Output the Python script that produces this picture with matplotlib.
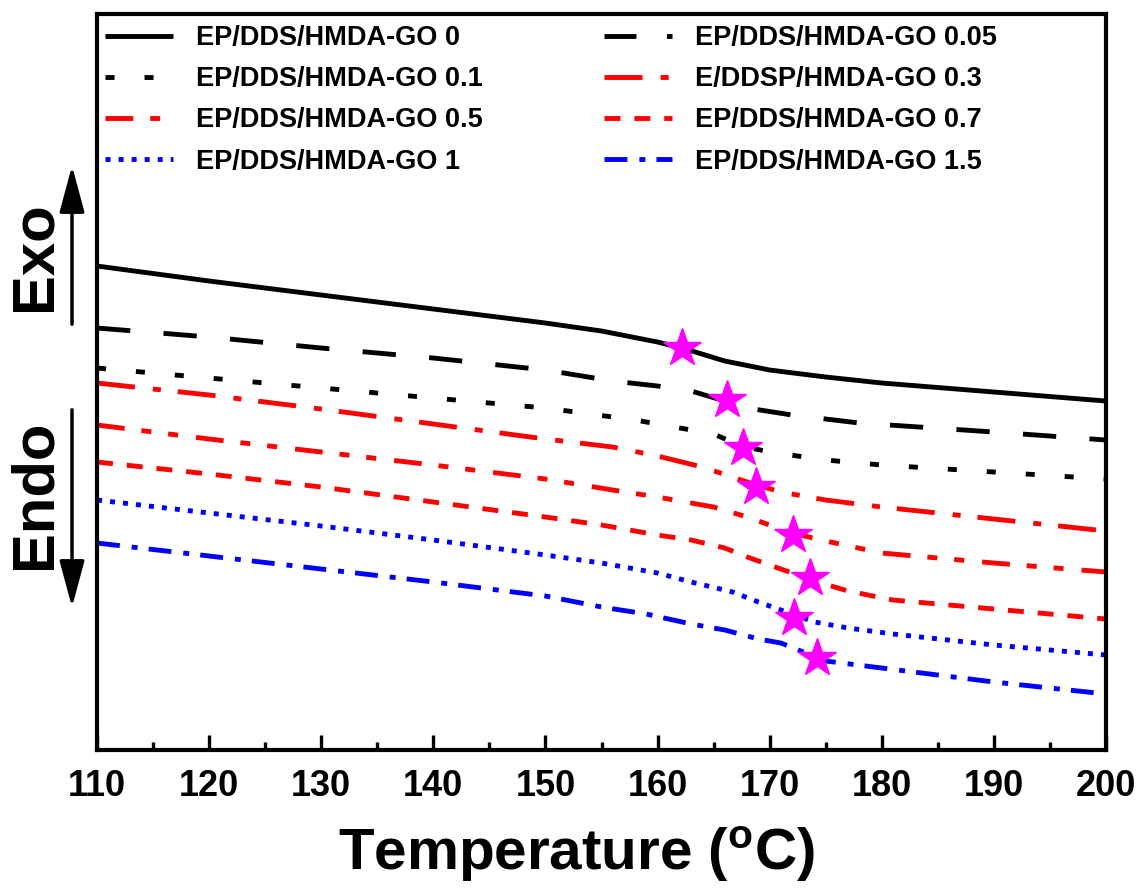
import matplotlib
matplotlib.use("Agg")
import matplotlib.pyplot as plt
from matplotlib.lines import Line2D

plt.rcParams['font.family'] = ['Liberation Sans', 'DejaVu Sans']
plt.rcParams['font.weight'] = 'bold'
plt.rcParams['mathtext.default'] = 'regular'
plt.rcParams['lines.scale_dashes'] = False

# DSC curves, heat flow in arbitrary units (offset stacked)
t_0 = [110, 120, 130, 140, 150, 155, 160, 162.5, 166, 170, 175, 180, 190, 200]
hf_0 = [4.84, 4.69, 4.55, 4.41, 4.27, 4.19, 4.08, 4.01, 3.89, 3.80, 3.73, 3.67, 3.58, 3.49]

t_005 = [110, 120, 130, 140, 150, 156, 160, 163, 166, 168, 172, 178, 190, 200]
hf_005 = [4.22, 4.13, 4.02, 3.92, 3.80, 3.69, 3.64, 3.59, 3.49, 3.42, 3.35, 3.27, 3.18, 3.10]

t_01 = [110, 120, 130, 140, 150, 158, 162, 165, 167.5, 170, 175, 180, 190, 200]
hf_01 = [3.82, 3.72, 3.62, 3.52, 3.42, 3.30, 3.22, 3.16, 3.04, 2.98, 2.90, 2.85, 2.78, 2.71]

t_03 = [110, 120, 130, 140, 150, 156, 160, 164, 168, 171, 175, 180, 190, 200]
hf_03 = [3.67, 3.55, 3.41, 3.26, 3.11, 3.03, 2.94, 2.83, 2.68, 2.58, 2.50, 2.43, 2.31, 2.19]

t_05 = [110, 120, 130, 140, 150, 156, 160, 165, 168, 172, 175, 180, 190, 200]
hf_05 = [3.25, 3.11, 2.98, 2.85, 2.71, 2.60, 2.53, 2.43, 2.33, 2.17, 2.09, 1.97, 1.87, 1.78]

t_07 = [110, 120, 130, 140, 150, 155, 160, 163, 166, 168, 170.5, 174, 177, 181, 190, 200]
hf_07 = [2.88, 2.76, 2.63, 2.48, 2.33, 2.25, 2.15, 2.10, 2.02, 1.93, 1.83, 1.69, 1.59, 1.50, 1.41, 1.31]

t_1 = [110, 120, 130, 140, 150, 155, 160, 163, 166.7, 169, 171, 174, 177, 181, 190, 200]
hf_1 = [2.50, 2.37, 2.24, 2.10, 1.95, 1.87, 1.77, 1.68, 1.58, 1.48, 1.40, 1.28, 1.22, 1.16, 1.05, 0.95]

t_15 = [110, 120, 130, 140, 150, 155, 159, 163, 166, 169, 171, 173, 175, 180, 190, 200]
hf_15 = [2.07, 1.94, 1.81, 1.68, 1.54, 1.43, 1.36, 1.26, 1.20, 1.11, 1.07, 0.98, 0.89, 0.82, 0.68, 0.56]

# Tg markers
tg_t = [162.2, 166.2, 167.6, 168.8, 172.1, 173.6, 172.2, 174.2]
tg_hf = [4.02, 3.50, 3.02, 2.63, 2.15, 1.72, 1.32, 0.92]

labels = ['EP/DDS/HMDA-GO 0', 'EP/DDS/HMDA-GO 0.05', 'EP/DDS/HMDA-GO 0.1',
          'E/DDSP/HMDA-GO 0.3', 'EP/DDS/HMDA-GO 0.5', 'EP/DDS/HMDA-GO 0.7',
          'EP/DDS/HMDA-GO 1', 'EP/DDS/HMDA-GO 1.5']

curves = [(t_0, hf_0), (t_005, hf_005), (t_01, hf_01), (t_03, hf_03),
          (t_05, hf_05), (t_07, hf_07), (t_1, hf_1), (t_15, hf_15)]
colors = ['black', 'black', 'black', '#ff0000', '#ff0000', '#ff0000', '#0000ff', '#0000ff']
styles = ['-', (0, (24, 24)), (0, (6.5, 21.6)), (0, (27.4, 13, 5.8, 12.2)),
          (0, (20, 12.2, 7.2, 12.2, 7.2, 13)), (0, (11.5, 10)), (0, (3.6, 5.8)),
          (0, (16.5, 8.6, 4.3, 8))]

fig = plt.figure(figsize=(11.43, 8.88), dpi=100)
ax = fig.add_axes([0.0849, 0.1554, 0.8827, 0.8288])

handles = []
for (t, hf), c, ls, lab in zip(curves, colors, styles, labels):
    ln, = ax.plot(t, hf, color=c, linestyle=ls, lw=3.5, label=lab,
                  dash_capstyle='butt', solid_capstyle='butt')
    handles.append(ln)

ax.plot(tg_t, tg_hf, linestyle='none', marker='*', markersize=29,
        color='#ff00ff', markeredgecolor='#ff00ff', zorder=5)

# legend handle for 0.05 shows dash + dot
handles[1] = Line2D([], [], color='black', lw=3.5, linestyle=(0, (23, 22, 5, 40)))

order = [0, 2, 4, 6, 1, 3, 5, 7]
ax.legend([handles[i] for i in order], [labels[i] for i in order], ncol=2,
          loc='upper left', bbox_to_anchor=(105 / 1143, 1 - 25 / 888),
          bbox_transform=fig.transFigure, frameon=False,
          prop={'size': 19.5, 'weight': 'bold'}, handlelength=2.5,
          handletextpad=0.85, columnspacing=4.5, labelspacing=0.56,
          borderpad=0, borderaxespad=0)

ax.set_xlim(110, 200)
ax.set_ylim(0, 7.36)
ax.set_xticks(range(110, 201, 10))
ax.set_xticks(range(115, 200, 10), minor=True)
ax.set_yticks([])
ax.tick_params(axis='x', which='major', direction='in', length=11, width=2.4,
               labelsize=26, pad=14, top=False)
ax.tick_params(axis='x', which='minor', direction='in', length=6, width=2.4, top=False)
for lab in ax.get_xticklabels():
    lab.set_fontweight('bold')
for sp in ax.spines.values():
    sp.set_linewidth(3)

ax.set_xlabel(r'Temperature ($^{o}$C)', fontsize=42, fontweight='bold')
ax.xaxis.set_label_coords(0.475, -0.102)

# Exo / Endo annotations
fig.text(0.031, 0.711, 'Exo', rotation=90, fontsize=43, fontweight='bold',
         ha='center', va='center')
fig.text(0.031, 0.443, 'Endo', rotation=90, fontsize=43, fontweight='bold',
         ha='center', va='center')
arrow = dict(arrowstyle='-|>,head_length=1.3,head_width=0.35', lw=2.5,
             color='black', mutation_scale=22)
ax.annotate('', xy=(0.063, 1 - 163 / 888), xytext=(0.063, 1 - 327 / 888),
            xycoords='figure fraction', textcoords='figure fraction',
            arrowprops=arrow, annotation_clip=False)
ax.annotate('', xy=(0.063, 1 - 610 / 888), xytext=(0.063, 1 - 407 / 888),
            xycoords='figure fraction', textcoords='figure fraction',
            arrowprops=arrow, annotation_clip=False)

fig.savefig('out.png', dpi=100)
